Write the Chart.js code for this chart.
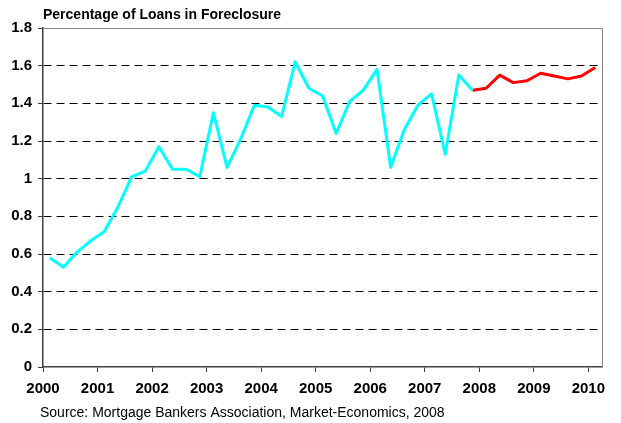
<!DOCTYPE html>
<html>
<head>
<meta charset="utf-8">
<title>Percentage of Loans in Foreclosure</title>
<script src="https://cdn.jsdelivr.net/npm/chart.js"></script>
<style>
  body { margin: 0; background: #fff; }
  .box { position: relative; width: 621px; height: 423px; }
</style>
</head>
<body>
<div class="box"><canvas id="loans"></canvas></div>
<script>
// quarterly series, 2000 Q1 onward; x axis runs in quarters
const years = ['2000', '2001', '2002', '2003', '2004', '2005', '2006', '2007', '2008', '2009', '2010'];
const actualRate = [0.58, 0.53, 0.61, 0.67, 0.72, 0.85, 1.01, 1.04, 1.17, 1.05, 1.05, 1.01,
  1.35, 1.06, 1.21, 1.39, 1.38, 1.33, 1.62, 1.48, 1.44, 1.24, 1.41, 1.47,
  1.58, 1.06, 1.26, 1.39, 1.45, 1.13, 1.55, 1.47];
const forecastStart = 31; // forecast picks up at the last actual quarter
const forecastRate = [1.47, 1.48, 1.55, 1.51, 1.52, 1.56, 1.545, 1.53, 1.545, 1.59];
const yTicks = [0, 0.2, 0.4, 0.6, 0.8, 1, 1.2, 1.4, 1.6, 1.8];

const FONT = '"Liberation Sans", Arial, sans-serif';
const quarters = years.length * 4 - 3; // 2000 Q1 .. 2010 Q1

const toPoints = (vals, start) => vals.map((v, i) => ({ x: start + i + 0.5, y: v }));

const frame = {
  id: 'frame',
  beforeDatasetsDraw(chart) {
    const { ctx, chartArea: a } = chart;
    ctx.save();
    ctx.strokeStyle = '#868686';
    ctx.lineWidth = 1;
    ctx.beginPath();
    ctx.moveTo(a.left, Math.round(a.top) + 0.5);
    ctx.lineTo(Math.round(a.right) + 0.5, Math.round(a.top) + 0.5);
    ctx.lineTo(Math.round(a.right) + 0.5, a.bottom);
    ctx.stroke();
    ctx.restore();
  },
  afterDraw(chart) {
    const ctx = chart.ctx;
    ctx.save();
    ctx.fillStyle = '#000';
    ctx.textBaseline = 'alphabetic';
    ctx.font = 'bold 14px ' + FONT;
    ctx.fillText('Percentage of Loans in Foreclosure', 43, 19);
    ctx.font = '14px ' + FONT;
    ctx.fillText('Source: Mortgage Bankers Association, Market-Economics, 2008', 40, 417);
    ctx.restore();
  }
};

new Chart(document.getElementById('loans'), {
  type: 'line',
  data: {
    datasets: [
      {
        data: toPoints(actualRate, 0),
        borderColor: '#00ffff',
        borderWidth: 3,
        borderJoinStyle: 'round',
        pointRadius: 0,
        tension: 0
      },
      {
        data: toPoints(forecastRate, forecastStart),
        borderColor: '#ff0000',
        borderWidth: 3,
        borderJoinStyle: 'round',
        pointRadius: 0,
        tension: 0
      }
    ]
  },
  options: {
    responsive: true,
    maintainAspectRatio: false,
    animation: false,
    layout: { padding: { top: 28, right: 19, bottom: 26, left: 0 } },
    plugins: { legend: { display: false }, tooltip: { enabled: false } },
    scales: {
      x: {
        type: 'linear',
        min: 0,
        max: quarters,
        afterFit: s => { s.height = 30; },
        afterBuildTicks: s => { s.ticks = years.map((_, k) => ({ value: k * 4 })); },
        grid: { drawOnChartArea: false, tickLength: 5, tickColor: '#404040', tickWidth: 1 },
        border: { color: '#404040', width: 1.5 },
        ticks: {
          autoSkip: false,
          maxRotation: 0,
          padding: 8,
          color: '#000',
          font: { family: FONT, size: 15, weight: 'bold' },
          callback: (v, i) => years[i]
        }
      },
      y: {
        min: 0,
        max: 1.8,
        afterFit: s => { s.width = 43; },
        afterBuildTicks: s => { s.ticks = yTicks.map(v => ({ value: v })); },
        grid: {
          color: c => (c.tick && (c.tick.value === 0 || c.tick.value === 1.8)) ? 'rgba(0,0,0,0)' : '#000',
          lineWidth: 1,
          tickLength: 5,
          tickColor: '#404040'
        },
        border: { color: '#404040', width: 1.5, dash: [8, 5] },
        ticks: {
          padding: 6,
          color: '#000',
          font: { family: FONT, size: 15, weight: 'bold' },
          callback: v => String(v)
        }
      }
    }
  },
  plugins: [frame]
});
</script>
</body>
</html>
